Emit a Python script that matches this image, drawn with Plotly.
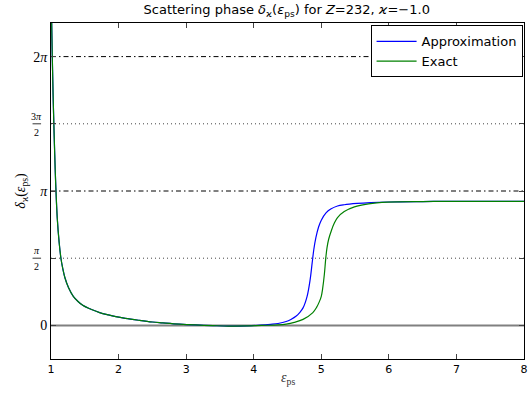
import numpy as np
import plotly.graph_objects as go

PI = np.pi

# --- data ---
x_approx = [1.0, 1.01, 1.019, 1.03, 1.044, 1.057, 1.071, 1.093, 1.12, 1.147, 1.175, 1.205,
            1.26, 1.33, 1.40, 1.47, 1.6, 1.72, 1.85, 1.96, 2.1, 2.3, 2.5, 2.65, 2.9, 3.14,
            3.4, 3.63, 3.9, 4.1, 4.25, 4.36, 4.48, 4.55, 4.63, 4.68, 4.73, 4.79, 4.835, 4.865,
            4.89, 4.92, 4.96, 5.0, 5.07, 5.14, 5.24, 5.34, 5.53, 5.73, 6.0, 6.5, 7.0, 8.0]
y_approx = [7.9, 7.08, 6.28, 5.45, 4.6, 3.9, 3.25, 2.5, 1.95, 1.57, 1.32, 1.12,
            0.88, 0.68, 0.56, 0.47, 0.37, 0.30, 0.245, 0.205, 0.165, 0.12, 0.08, 0.06, 0.03, 0.01,
            -0.005, -0.015, -0.01, 0.005, 0.025, 0.045, 0.09, 0.14, 0.22, 0.30, 0.41, 0.68, 1.07, 1.46,
            1.78, 2.05, 2.3, 2.46, 2.63, 2.72, 2.79, 2.82, 2.85, 2.87, 2.885, 2.895, 2.90, 2.90]

x_exact = [1.0, 1.01, 1.019, 1.03, 1.044, 1.057, 1.071, 1.093, 1.12, 1.147, 1.175, 1.205,
           1.26, 1.33, 1.40, 1.47, 1.6, 1.72, 1.85, 1.96, 2.1, 2.3, 2.5, 2.65, 2.9, 3.14,
           3.4, 3.63, 3.9, 4.12, 4.36, 4.48, 4.6, 4.73, 4.875, 4.93, 4.97, 5.0, 5.02, 5.046,
           5.065, 5.085, 5.11, 5.15, 5.19, 5.24, 5.34, 5.49, 5.7, 5.98, 6.5, 7.0, 8.0]
y_exact = [7.9, 7.08, 6.28, 5.45, 4.6, 3.9, 3.25, 2.5, 1.95, 1.57, 1.32, 1.12,
           0.88, 0.68, 0.56, 0.47, 0.37, 0.30, 0.245, 0.205, 0.165, 0.12, 0.08, 0.06, 0.03, 0.01,
           -0.005, -0.015, -0.012, 0.0, 0.012, 0.03, 0.07, 0.14, 0.30, 0.42, 0.55, 0.68, 0.86, 1.2,
           1.55, 1.82, 2.02, 2.22, 2.38, 2.52, 2.66, 2.77, 2.84, 2.88, 2.895, 2.90, 2.90]

ytick_vals = [0, PI / 2, PI, 3 * PI / 2, 2 * PI]
ytick_text = ["0", "", "<i>π</i>", "", "2<i>π</i>"]
# fractional tick labels drawn as stacked fractions: (value, numerator, denominator)
frac_labels = [(PI / 2, "<i>π</i>", "2"), (3 * PI / 2, "3<i>π</i>", "2")]
xtick_vals = [1, 2, 3, 4, 5, 6, 7, 8]
ref_levels = [(0, "solid"), (PI / 2, "dot"), (PI, "dashdot"), (3 * PI / 2, "dot"), (2 * PI, "dashdot")]

fig = go.Figure()
fig.add_trace(go.Scatter(x=x_approx, y=y_approx, mode="lines", name="Approximation",
                         line=dict(color="#0000ff", width=1.2, shape="spline", smoothing=1.0)))
fig.add_trace(go.Scatter(x=x_exact, y=y_exact, mode="lines", name="Exact",
                         line=dict(color="#008000", width=1.2, shape="spline", smoothing=1.0)))

for lvl, dash in ref_levels:
    if dash == "solid":
        fig.add_shape(type="line", xref="x", yref="y", x0=1, x1=8, y0=lvl, y1=lvl,
                      line=dict(color="#808080", width=2), layer="below")
    elif dash == "dashdot":
        fig.add_shape(type="line", xref="x", yref="y", x0=1, x1=8, y0=lvl, y1=lvl,
                      line=dict(color="black", width=1, dash="5px,3px,1.5px,3px"), layer="below")
    else:
        fig.add_shape(type="line", xref="x", yref="y", x0=1, x1=8, y0=lvl, y1=lvl,
                      line=dict(color="#444444", width=1, dash="1px,3px"), layer="below")

serif = "Liberation Serif, DejaVu Serif, serif"
sans = "DejaVu Sans, sans-serif"

# stacked fraction tick labels
frac_x = -0.03  # paper coords, just left of the axis
for val, num, den in frac_labels:
    fig.add_annotation(x=frac_x, y=val, xref="paper", yref="y", text=num, showarrow=False,
                       xanchor="center", yanchor="bottom", yshift=0,
                       font=dict(family=serif, size=10, color="black"))
    fig.add_annotation(x=frac_x, y=val, xref="paper", yref="y", text=den, showarrow=False,
                       xanchor="center", yanchor="top", yshift=-1,
                       font=dict(family=serif, size=10, color="black"))
    fig.add_shape(type="line", xref="paper", yref="y", x0=frac_x - 0.009, x1=frac_x + 0.009,
                  y0=val, y1=val, line=dict(color="black", width=0.8))

# x-axis label placed as annotation to match reference spacing
fig.add_annotation(x=0.5, y=-0.058, xref="paper", yref="paper", text="<i>ε</i><sub>ps</sub>",
                   showarrow=False, xanchor="center", yanchor="middle",
                   font=dict(family=serif, size=14, color="#333"))

fig.update_layout(
    width=531, height=393,
    margin=dict(l=51, r=3, t=23, b=34),
    paper_bgcolor="white", plot_bgcolor="white",
    title=dict(text="Scattering phase <i>δ</i><sub>ϰ</sub>(<i>ε</i><sub>ps</sub>) for <i>Z</i>=232, <i>ϰ</i>=−1.0",
               x=0.54, xanchor="center", y=0.975, yanchor="middle",
               font=dict(family=sans, size=13, color="black")),
    showlegend=True,
    legend=dict(x=0.997, y=0.993, xanchor="right", yanchor="top",
                bgcolor="white", bordercolor="black", borderwidth=1,
                font=dict(family=sans, size=13, color="black"),
                tracegroupgap=0, itemwidth=40),
    xaxis=dict(range=[1, 8], tickvals=xtick_vals, ticks="inside", ticklen=5,
               showline=True, linecolor="black", linewidth=1, mirror="allticks",
               showgrid=False, zeroline=False, ticklabeloverflow="allow",
               tickfont=dict(family=sans, size=11, color="black")),
    yaxis=dict(range=[-PI / 4, 9 * PI / 4], tickvals=ytick_vals, ticktext=ytick_text,
               ticks="inside", ticklen=5,
               showline=True, linecolor="black", linewidth=1, mirror="allticks",
               showgrid=False, zeroline=False,
               tickfont=dict(family=serif, size=14, color="black"),
               title=dict(text="<i>δ</i><sub>ϰ</sub>(<i>ε</i><sub>ps</sub>)",
                          font=dict(family=serif, size=14, color="black"), standoff=4)),
)

fig.write_html("out.html")
